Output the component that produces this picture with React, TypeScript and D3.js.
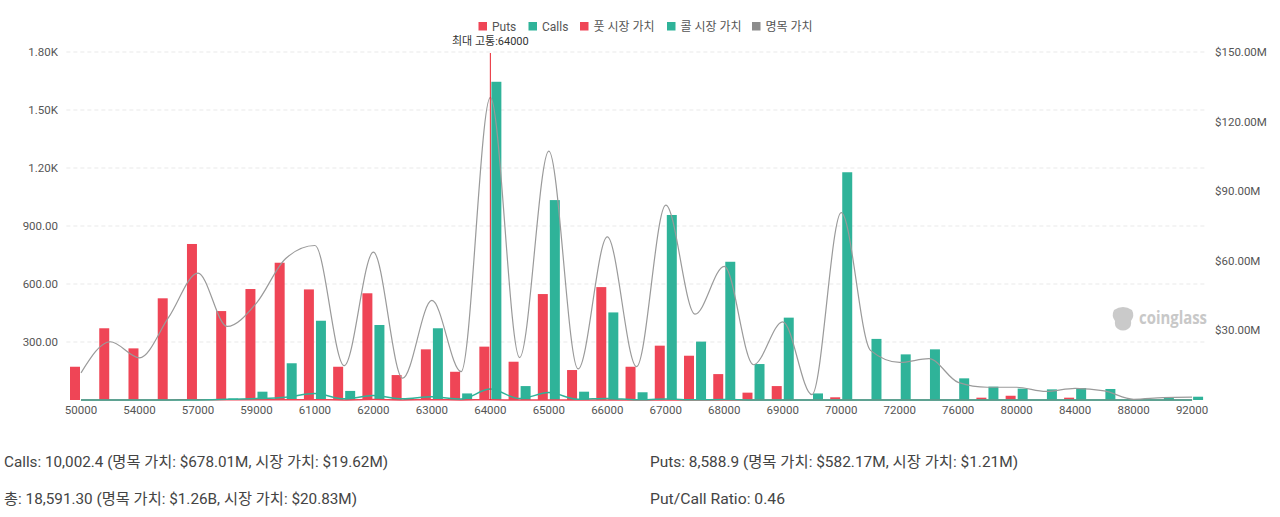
import React from 'react';
import * as d3 from 'd3';

const categories = ['50000','52000','54000','55000','57000','58000','59000','60000','61000','61500','62000','62500','63000','63500','64000','64500','65000','65500','66000','66500','67000','67500','68000','68500','69000','69500','70000','71000','72000','74000','76000','78000','80000','82000','84000','86000','88000','90000','92000'];

const puts = [172,371,267,526,807,460,574,710,572,172,552,129,262,146,276,198,548,155,584,172,281,229,134,38,72,0,14,0,0,0,0,12,22,0,12,0,0,0,0];
const calls = [0,0,0,0,0,8,43,190,410,47,388,10,371,34,1646,72,1034,43,453,40,957,302,715,186,426,34,1178,316,236,262,112,69,59,55,62,57,3,14,17];
// millions USD
const notional = [11.7,25.1,18.2,35.7,54.7,31.7,41.8,61,66.6,14.8,63.7,9.4,42.9,12.2,130.4,18.3,107.3,13.4,70.3,14.4,84,37,57.6,15.2,33.7,2.3,80.8,21.4,16.2,17.8,7.6,5.5,5.5,3.7,5,3.9,0.3,1,1.2];
const callMarket = [0,0,0,0.02,0.05,0.3,0.6,1.2,2.8,0.5,1.9,0.5,1.4,0.4,4.7,0.6,3.2,0.3,0.7,0.1,0.4,0.1,0.2,0.03,0.05,0.01,0.02,0,0,0,0,0,0,0,0,0,0,0,0];
const putMarket = [0.01,0.02,0.02,0.04,0.08,0.06,0.1,0.14,0.16,0.05,0.17,0.04,0.09,0.04,0.07,0.03,0.03,0.01,0.01,0,0,0,0,0,0,0,0,0,0,0,0,0,0,0,0,0,0,0,0];

const leftTicks = [300, 600, 900, 1200, 1500, 1800];
const leftTickLabels = ['300.00', '600.00', '900.00', '1.20K', '1.50K', '1.80K'];
const rightTicks = [30, 60, 90, 120, 150];
const rightTickLabels = ['$30.00M', '$60.00M', '$90.00M', '$120.00M', '$150.00M'];
const maxPain = '64000';

const legendItems = [
  { label: 'Puts', color: '#EF4556' },
  { label: 'Calls', color: '#2FB399' },
  { label: '풋 시장 가치', color: '#EF4556' },
  { label: '콜 시장 가치', color: '#2FB399' },
  { label: '명목 가치', color: '#8C8C8C' },
];

const summary = [
  'Calls: 10,002.4 (명목 가치: $678.01M, 시장 가치: $19.62M)',
  'Puts: 8,588.9 (명목 가치: $582.17M, 시장 가치: $1.21M)',
  '총: 18,591.30 (명목 가치: $1.26B, 시장 가치: $20.83M)',
  'Put/Call Ratio: 0.46',
];

const RED = '#EF4556';
const GREEN = '#2FB399';
const FONT = "Roboto, 'Noto Sans CJK KR', sans-serif";

export default function App() {
  const W = 1280, H = 517;
  const left = 66.4, right = 1206.7, top = 52, bottom = 400;

  const x = d3.scaleBand<string>().domain(categories).range([left, right]).padding(0);
  const bw = x.bandwidth();
  const x1 = d3.scaleBand<string>().domain(['p', 'c']).range([0, bw]).paddingInner(0.17).paddingOuter(0.3);
  const yL = d3.scaleLinear().domain([0, 1800]).range([bottom, top]);
  const yR = d3.scaleLinear().domain([0, 150]).range([bottom, top]);
  const cx = (c: string) => (x(c) as number) + bw / 2;

  const lineGen = (vals: number[], curve: any) =>
    d3.line<number>().x((_, i) => cx(categories[i])).y((v) => yR(v)).curve(curve)(vals) || '';

  const labelIdx = categories.map((_, i) => i).filter((i) => i % 2 === 0);

  const legendX = [478.5, 528.5, 580, 667, 752];
  const summaryPos = [
    { x: 4, y: 467, len: 384 },
    { x: 650, y: 467, len: 368 },
    { x: 4, y: 504, len: 353 },
    { x: 650, y: 504, len: 135 },
  ];

  return (
    <svg width={W} height={H} style={{ position: 'absolute', left: 0, top: 0, background: '#fff' }} fontFamily={FONT}>
      {/* grid */}
      {leftTicks.map((t) => (
        <line key={t} x1={left} x2={right} y1={yL(t)} y2={yL(t)} stroke="#E9E9E9" strokeDasharray="4,3" strokeWidth={1} />
      ))}
      {/* axis labels */}
      {leftTicks.map((t, i) => (
        <text key={t} x={58} y={yL(t)} dy="0.35em" textAnchor="end" fontSize={11.5} fill="#555">{leftTickLabels[i]}</text>
      ))}
      {rightTicks.map((t, i) => (
        <text key={t} x={1215} y={yR(t)} dy="0.35em" textAnchor="start" fontSize={11.5} fill="#555">{rightTickLabels[i]}</text>
      ))}
      {/* watermark */}
      <g>
        <path d="M1114,310 q9,-6 18,0 q3,6 -1,11 q1,5 -3,8 q-5,3 -10,0 q-4,-3 -3,-8 q-4,-5 -1,-11 z" fill="#CACACA" />
        <text x={1139} y={324} fontSize={17} fontWeight={700} fill="#C8C8C8" textLength={68} lengthAdjust="spacingAndGlyphs" fontFamily="'Open Sans', Roboto, sans-serif">coinglass</text>
      </g>
      {/* bars */}
      {categories.map((c, i) => (
        <g key={c}>
          {puts[i] > 0 && (
            <rect x={(x(c) as number) + (x1('p') as number)} y={yL(puts[i])} width={x1.bandwidth()} height={bottom - yL(puts[i])} fill={RED} />
          )}
          {calls[i] > 0 && (
            <rect x={(x(c) as number) + (x1('c') as number)} y={yL(calls[i])} width={x1.bandwidth()} height={bottom - yL(calls[i])} fill={GREEN} />
          )}
        </g>
      ))}
      {/* lines */}
      <path d={lineGen(putMarket, d3.curveMonotoneX)} fill="none" stroke={RED} strokeWidth={1.5} />
      <path d={lineGen(callMarket, d3.curveMonotoneX)} fill="none" stroke={GREEN} strokeWidth={1.5} />
      <path d={lineGen(notional, d3.curveMonotoneX)} fill="none" stroke="#9A9A9A" strokeWidth={1.2} />
      {/* max pain */}
      <line x1={cx(maxPain)} x2={cx(maxPain)} y1={53} y2={bottom} stroke="#E8232F" strokeWidth={1} />
      <text x={cx(maxPain)} y={45} textAnchor="middle" fontSize={11} fill="#333">최대 고통:{maxPain}</text>
      {/* x labels */}
      {labelIdx.map((i) => (
        <text key={i} x={cx(categories[i])} y={414} textAnchor="middle" fontSize={11.5} fill="#555">{categories[i]}</text>
      ))}
      {/* legend */}
      {legendItems.map((it, i) => (
        <g key={i}>
          <rect x={legendX[i]} y={22} width={8.5} height={8.5} fill={it.color} />
          <text x={legendX[i] + 13.5} y={26.5} dy="0.35em" fontSize={12} fill="#555">{it.label}</text>
        </g>
      ))}
      {/* summary */}
      {summary.map((s, i) => (
        <text key={i} x={summaryPos[i].x} y={summaryPos[i].y} fontSize={15} fill="#444"
          textLength={summaryPos[i].len} lengthAdjust="spacingAndGlyphs">{s}</text>
      ))}
    </svg>
  );
}
